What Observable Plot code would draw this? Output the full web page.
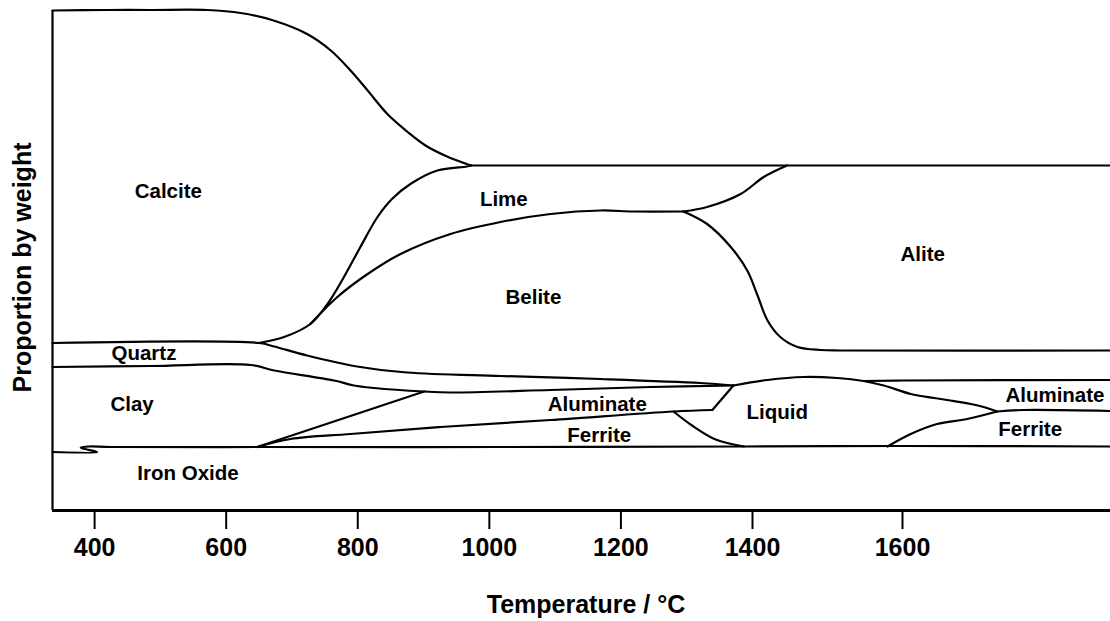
<!DOCTYPE html>
<html>
<head>
<meta charset="utf-8">
<script src="https://cdn.jsdelivr.net/npm/d3@7"></script>
<script src="https://cdn.jsdelivr.net/npm/@observablehq/plot@0.6"></script>
<style>
  html, body { margin: 0; padding: 0; background: #fff; }
  svg { display: block; }
</style>
</head>
<body>
<div id="chart"></div>
<script>
// ---- Data: temperature (°C) and proportion by weight (0–100) ----
const tempTicks = [400, 600, 800, 1000, 1200, 1400, 1600];

const calciteTop = [[336,100],[419,100.1],[485,100.1],[571,100.1],[622,99.5],[672,98.0],[723,95.3],[759,92.0],[789,88.0],[815,84.0],[845,79.3],[875,75.8],[903,73.0],[934,70.9],[972,69.0]];
const limeTop = [[972,69.0],[1877,69.0]];
const limeLeft = [[649,33.5],[688,34.7],[728,37.3],[754,41.3],[779,46.7],[804,52.7],[830,58.7],[852,62.3],[880,65.3],[921,68.0],[966,68.8],[972,69.0]];
const beliteTop = [[728,37.3],[769,42.7],[815,47.3],[865,51.3],[941,55.3],[1017,57.7],[1093,59.3],[1169,60.0],[1219,59.8],[1295,59.8]];
const limeAlite = [[1295,59.8],[1331,60.7],[1382,63.3],[1415,66.7],[1446,69.0]];
const beliteAlite = [[1295,59.8],[1331,57.3],[1367,52.7],[1392,48.0],[1406,43.3],[1420,38.0],[1437,34.7],[1460,32.7],[1491,32.1],[1517,32.0],[1877,32.0]];
const quartzTop = [[336,33.5],[650,33.5],[673,32.8],[723,31.0],[799,28.8],[875,27.6],[1017,26.9],[1169,26.3],[1321,25.5],[1371,25.0]];
const quartzBottom = [[336,28.7],[485,28.9],[637,29.1],[673,28.0],[764,26.0],[794,25.0],[825,24.5],[901,23.8],[941,23.6],[1093,24.1],[1245,24.7],[1371,25.0]];
const liquidTop = [[1371,25.0],[1420,26.1],[1468,26.7],[1513,26.5],[1548,25.9],[1575,25.0],[1611,23.3],[1642,22.5],[1664,22.0],[1691,21.3],[1708,20.7],[1726,19.8]];
const aluminateTopRight = [[1548,25.9],[1600,26.0],[1877,26.1]];
const aluminateBottomRight = [[1726,19.8],[1761,20.1],[1877,19.9]];
const liquidRightBottom = [[1580,12.8],[1611,15.3],[1646,17.3],[1686,18.3],[1726,19.8]];
const aluminateBottom = [[647,12.7],[698,14.3],[789,15.3],[926,16.7],[1093,18.1],[1280,19.8],[1339,20.1]];
const aluminateLiquidEdge = [[1339,20.1],[1371,25.0]];
const liquidLeftBottom = [[1280,19.8],[1307,17.1],[1344,14.2],[1387,12.8]];
const clayEdge = [[647,12.7],[901,23.8]];
const ironOxideTop = [[336,11.7],[404,11.7],[382,12.4],[379,12.6],[391,12.8],[424,12.7],[647,12.7],[1017,12.7],[1387,12.8],[1597,12.9],[1877,12.8]];

const regionNames = ["Calcite","Lime","Belite","Alite","Quartz","Clay","Iron Oxide","Aluminate","Ferrite","Liquid","Aluminate","Ferrite"];
const regionTemps = [512,1022,1067,1627,475,457,542,1164,1167,1433,1803,1770];
const regionProps = [63.8,62.3,42.7,51.2,31.4,21.2,7.5,21.3,15.0,19.6,23.1,16.3];

const xTitle = "Temperature / °C";
const yTitle = "Proportion by weight";

// ---- The original temperature axis is not uniform (1400→1600 is drawn wider): piecewise warp ----
const tempBreaks = [336, 1400, 1600, 1877];
const axisUnits = [0, 700, 850, 1058];
const warp = d3.scaleLinear().domain(tempBreaks).range(axisUnits);

// ---- Build ----
const labels = regionNames.map((name, i) => ({name, t: regionTemps[i], p: regionProps[i]}));
const lineStyle = {x: d => warp(d[0]), y: d => d[1], stroke: "#000", strokeWidth: 2.2, strokeLinejoin: "round", strokeLinecap: "round"};
const smooth = (data) => Plot.line(data, {...lineStyle, curve: "catmull-rom"});
const straight = (data) => Plot.line(data, {...lineStyle, curve: "linear"});

const chart = Plot.plot({
  width: 1110,
  height: 621,
  marginTop: 10,
  marginBottom: 111,
  marginLeft: 52,
  marginRight: 0,
  style: {fontFamily: "'Liberation Sans', Arial, sans-serif", fontSize: "25px", background: "#fff", color: "#000", overflow: "visible"},
  x: {domain: [axisUnits[0], axisUnits[3]]},
  y: {domain: [0, 100], axis: null},
  marks: [
    Plot.ruleX([warp(336)], {stroke: "#000", strokeWidth: 2.2}),
    Plot.ruleY([0], {stroke: "#000", strokeWidth: 3}),
    Plot.axisX({ticks: tempTicks.map(warp), tickFormat: v => String(Math.round(warp.invert(v))), tickSize: 19, tickPadding: 9, strokeWidth: 2, fontSize: 25, fontWeight: "bold", fill: "#000", stroke: "#000", label: null}),
    smooth(calciteTop),
    straight(limeTop),
    smooth(limeLeft),
    smooth(beliteTop),
    smooth(limeAlite),
    smooth(beliteAlite),
    smooth(quartzTop),
    smooth(quartzBottom),
    smooth(liquidTop),
    smooth(aluminateTopRight),
    smooth(aluminateBottomRight),
    smooth(liquidRightBottom),
    smooth(aluminateBottom),
    straight(aluminateLiquidEdge),
    smooth(liquidLeftBottom),
    straight(clayEdge),
    smooth(ironOxideTop),
    Plot.text(labels, {x: d => warp(d.t), y: "p", text: "name", fontSize: 20.5, fontWeight: "bold", fill: "#000"}),
    Plot.text([xTitle], {text: d => d, frameAnchor: "bottom", textAnchor: "middle", lineAnchor: "middle", dx: 4.5, dy: 94, fontSize: 25, fontWeight: "bold", fill: "#000"}),
    Plot.text([yTitle], {text: d => d, frameAnchor: "left", rotate: -90, textAnchor: "middle", lineAnchor: "middle", dx: -30, dy: 7, fontSize: 25, fontWeight: "bold", fill: "#000"})
  ]
});
document.getElementById("chart").appendChild(chart);
</script>
</body>
</html>
